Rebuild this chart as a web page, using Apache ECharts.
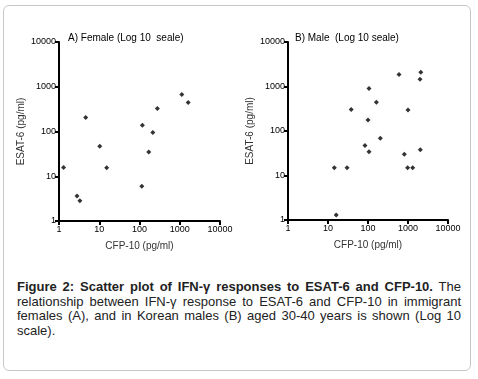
<!DOCTYPE html>
<html>
<head>
<meta charset="utf-8">
<script src="https://cdn.jsdelivr.net/npm/echarts@6/dist/echarts.min.js"></script>
<style type="text/css">
  body { margin: 0; background: #fff; }
  div.frame {
    position: absolute; left: 3px; top: 5px; width: 468px; height: 366px;
    border: 1px solid #c8c8c8; border-radius: 6px; box-sizing: border-box;
  }
  div.mychart { position: absolute; left: 0; top: 0; width: 478px; height: 260px; }
  div.caption {
    position: absolute; left: 17px; top: 280px; width: 444px;
    font-family: "Liberation Sans", Arial, sans-serif; font-size: 13px; line-height: 14.7px;
    color: #222; text-align: justify;
  }
</style>
</head>
<body>
<div class="frame"></div>
<div id="main" class="mychart"></div>
<div class="caption"><b>Figure 2: Scatter plot of IFN-γ responses to ESAT-6 and CFP-10.</b> The relationship between IFN-γ response to ESAT-6 and CFP-10 in immigrant females (A), and in Korean males (B) aged 30-40 years is shown (Log 10 scale).</div>
<script>
// female: CFP-10 vs ESAT-6 (pg/ml)
var femaleCFP  = [1.3, 2.8, 3.3, 4.6, 10.3, 15.3, 114, 118, 170, 214, 278, 1125, 1620];
var femaleESAT = [15.6, 3.6, 2.85, 206, 47, 15.4, 6, 138, 35, 95, 327, 675, 445];
// male
var maleCFP  = [14.4, 16, 30, 38, 84, 100, 106, 106, 162, 203, 596, 809, 980, 1000, 1310, 1995, 2090, 2030];
var maleESAT = [15, 1.3, 15, 305, 47, 176, 900, 34, 440, 69, 1860, 30, 15, 295, 15, 1450, 2090, 38];
var titles = ["A) Female (Log 10  seale)", "B) Male  (Log 10 seale)"];

function pairs(xs, ys){
    var out = [];
    for(var i = 0; i < xs.length; i++){
        out.push([xs[i], ys[i]]);
    }
    return out;
}

var axisFont = "Liberation Sans";
function logAxis(idx, name, isY){
    return {
        type: 'log', logBase: 10, min: 1, max: 10000,
        gridIndex: idx,
        name: name,
        nameLocation: 'middle',
        nameGap: isY ? 33 : 20,
        nameTextStyle: { color: '#333', fontSize: 10, fontFamily: axisFont },
        axisLine: { lineStyle: { color: '#000', width: 2 } },
        axisTick: { length: 4, lineStyle: { color: '#000', width: 2 } },
        axisLabel: {
            color: '#000', fontSize: 9, fontFamily: axisFont, margin: isY ? 3 : 4,
            formatter: function(v){ return String(Math.round(v)); }
        },
        splitLine: { show: false },
        minorTick: { show: false }
    };
}

var myChart = echarts.init(document.getElementById('main'));
var option = {
    animation: false,
    title: [
        { text: titles[0], left: 63, top: 28, textStyle: { fontSize: 10, fontWeight: 'normal', color: '#000', fontFamily: axisFont } },
        { text: titles[1], left: 290, top: 28, textStyle: { fontSize: 10, fontWeight: 'normal', color: '#000', fontFamily: axisFont } }
    ],
    grid: [
        { left: 59, top: 42, width: 161, height: 179 },
        { left: 288, top: 42, width: 160, height: 178 }
    ],
    xAxis: [logAxis(0, 'CFP-10 (pg/ml)', false), logAxis(1, 'CFP-10 (pg/ml)', false)],
    yAxis: [logAxis(0, 'ESAT-6 (pg/ml)', true), logAxis(1, 'ESAT-6 (pg/ml)', true)],
    series: [
        {
            type: 'scatter', xAxisIndex: 0, yAxisIndex: 0,
            symbol: 'diamond', symbolSize: 5,
            itemStyle: { color: '#000' },
            data: pairs(femaleCFP, femaleESAT)
        },
        {
            type: 'scatter', xAxisIndex: 1, yAxisIndex: 1,
            symbol: 'diamond', symbolSize: 5,
            itemStyle: { color: '#000' },
            data: pairs(maleCFP, maleESAT)
        }
    ]
};
myChart.setOption(option);
</script>
</body>
</html>
